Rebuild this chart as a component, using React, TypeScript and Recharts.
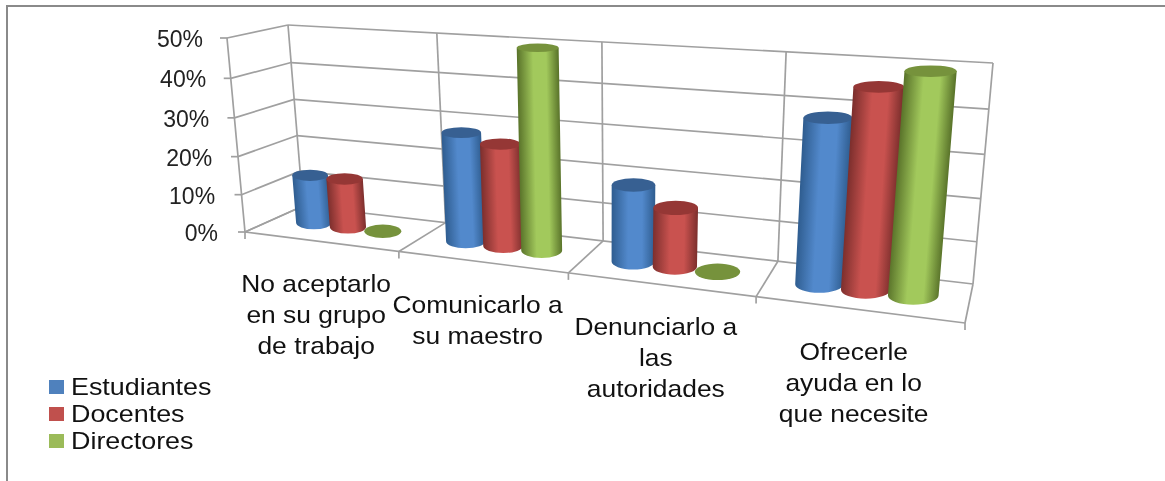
import { BarChart, Bar, XAxis, YAxis, Legend } from 'recharts'

const categories = [
  'No aceptarlo en su grupo de trabajo',
  'Comunicarlo a su maestro',
  'Denunciarlo a las autoridades',
  'Ofrecerle ayuda en lo que necesite',
]
const labelLines = [
  ['No aceptarlo', 'en su grupo', 'de trabajo'],
  ['Comunicarlo a', 'su maestro'],
  ['Denunciarlo a', 'las', 'autoridades'],
  ['Ofrecerle', 'ayuda en lo', 'que necesite'],
]
const estudiantes = [13, 28, 19, 38.5]
const docentes = [13, 26, 14.5, 46]
const directores = [0, 50, 0, 50]
const yTicks = [0, 10, 20, 30, 40, 50]

const data = categories.map((name, i) => ({
  name,
  Estudiantes: estudiantes[i],
  Docentes: docentes[i],
  Directores: directores[i],
}))

// plot rectangle that recharts works in, before the 3d projection
const WIDTH = 1165
const HEIGHT = 481
const PLOT_LEFT = 245
const PLOT_TOP = 38
const PLOT_W = 720
const PLOT_H = 194

type Pt = [number, number]

const homography = (p0: Pt, p1: Pt, p2: Pt, p3: Pt) => {
  const dx1 = p1[0] - p2[0]
  const dx2 = p3[0] - p2[0]
  const sx = p0[0] - p1[0] + p2[0] - p3[0]
  const dy1 = p1[1] - p2[1]
  const dy2 = p3[1] - p2[1]
  const sy = p0[1] - p1[1] + p2[1] - p3[1]
  const den = dx1 * dy2 - dx2 * dy1
  const g = (sx * dy2 - dx2 * sy) / den
  const h = (dx1 * sy - sx * dy1) / den
  const a = p1[0] - p0[0] + g * p1[0]
  const b = p3[0] - p0[0] + h * p3[0]
  const d = p1[1] - p0[1] + g * p1[1]
  const e = p3[1] - p0[1] + h * p3[1]
  return (u: number, v: number): Pt => {
    const q = g * u + h * v + 1
    return [(a * u + b * v + p0[0]) / q, (d * u + e * v + p0[1]) / q]
  }
}

// wall corners as they sit in the picture
const backWall = homography([303, 206], [973, 284], [993, 63], [288, 25])
const frontWall = homography([245, 232], [965, 323], [987, 88], [227, 38])

// u along the categories, v up the value axis, w from back (0) to front (1)
const project = (u: number, v: number, w: number): Pt => {
  const b = backWall(u, v)
  const f = frontWall(u, v)
  return [b[0] + (f[0] - b[0]) * w, b[1] + (f[1] - b[1]) * w]
}

const GRID = '#a0a0a0'

const Wire = ({ a, b }: { a: Pt; b: Pt }) => (
  <line x1={a[0]} y1={a[1]} x2={b[0]} y2={b[1]} stroke={GRID} strokeWidth={1.7} />
)

const WireFrame = () => {
  const levels = yTicks.map((t) => t / 50)
  const cuts = [0, 1, 2, 3, 4].map((i) => i / categories.length)
  return (
    <g>
      {levels.map((v) => (
        <g key={v}>
          <Wire a={project(0, v, 0)} b={project(1, v, 0)} />
          <Wire a={project(0, v, 1)} b={project(0, v, 0)} />
          <Wire a={[project(0, v, 1)[0] - 7, project(0, v, 1)[1]]} b={project(0, v, 1)} />
        </g>
      ))}
      <Wire a={project(0, 0, 1)} b={project(0, 1, 1)} />
      {cuts.map((u) => (
        <g key={u}>
          <Wire a={project(u, 0, 0)} b={project(u, 1, 0)} />
          <Wire a={project(u, 0, 1)} b={project(u, 0, 0)} />
          <Wire a={project(u, 0, 1)} b={[project(u, 0, 1)[0], project(u, 0, 1)[1] + 7]} />
        </g>
      ))}
      <Wire a={project(0, 0, 1)} b={project(1, 0, 1)} />
    </g>
  )
}

const tones: Record<string, { edge: string; mid: string; cap: string }> = {
  Estudiantes: { edge: '#2f5d90', mid: '#5289cc', cap: '#376092' },
  Docentes: { edge: '#7d2f2d', mid: '#c9524f', cap: '#953735' },
  Directores: { edge: '#5b752b', mid: '#a2c95c', cap: '#76923c' },
}

const BAR_DEPTH = 0.47
const BAR_RADIUS_DEPTH = 0.24
const BAR_FATTEN = 1.05

const Cylinder = (props: any) => {
  const { x, y, width, height, index, seriesKey } = props
  const tone = tones[seriesKey]
  const uMid = (x + width / 2 - PLOT_LEFT) / PLOT_W
  const uHalf = ((width / 2) * BAR_FATTEN) / PLOT_W
  const uL = uMid - uHalf
  const uR = uMid + uHalf
  const vTop = (PLOT_TOP + PLOT_H - y) / PLOT_H
  const vBottom = (PLOT_TOP + PLOT_H - y - height) / PLOT_H

  const ring = (v: number) => {
    // the bars flare less towards the top than the walls do
    const l = project(uL, v * 0.5, BAR_DEPTH)
    const r = project(uR, v * 0.5, BAR_DEPTH)
    const c = project(uMid, v, BAR_DEPTH)
    const near = project(uMid, v, BAR_DEPTH + BAR_RADIUS_DEPTH)
    const far = project(uMid, v, BAR_DEPTH - BAR_RADIUS_DEPTH)
    return { cx: c[0], cy: c[1], rx: (r[0] - l[0]) / 2, ry: Math.abs(near[1] - far[1]) / 2 }
  }
  const top = ring(vTop)
  const bottom = ring(vBottom)

  if (height < 0.5) {
    return <ellipse cx={bottom.cx} cy={bottom.cy} rx={bottom.rx} ry={bottom.ry} fill={tone.cap} />
  }

  const ax = top.cx - bottom.cx
  const ay = top.cy - bottom.cy
  const len = Math.hypot(ax, ay) || 1
  const nx = (-ay / len) * bottom.rx
  const ny = (ax / len) * bottom.rx
  const id = `cyl-${seriesKey}-${index}`
  const body = [
    `M${top.cx - top.rx},${top.cy}`,
    `L${bottom.cx - bottom.rx},${bottom.cy}`,
    `A${bottom.rx},${bottom.ry} 0 0 0 ${bottom.cx + bottom.rx},${bottom.cy}`,
    `L${top.cx + top.rx},${top.cy}`,
    'Z',
  ].join(' ')

  return (
    <g>
      <defs>
        <linearGradient
          id={id}
          gradientUnits="userSpaceOnUse"
          x1={bottom.cx + nx}
          y1={bottom.cy + ny}
          x2={bottom.cx - nx}
          y2={bottom.cy - ny}
        >
          <stop offset="0%" stopColor={tone.edge} />
          <stop offset="30%" stopColor={tone.mid} />
          <stop offset="62%" stopColor={tone.mid} />
          <stop offset="100%" stopColor={tone.edge} />
        </linearGradient>
      </defs>
      <path d={body} fill={`url(#${id})`} />
      <ellipse cx={top.cx} cy={top.cy} rx={top.rx} ry={top.ry} fill={tone.cap} />
    </g>
  )
}

const TEXT_FONT = '"Liberation Sans", Arial, sans-serif'

const ValueTick = ({ y, payload }: any) => {
  const v = (PLOT_TOP + PLOT_H - y) / PLOT_H
  const p = project(0, v, 1)
  return (
    <text x={p[0] - 24 - 3 * (1 - v)} y={p[1] + 9} textAnchor="end" fontFamily={TEXT_FONT} fontSize={23} fill="#222">
      {payload.value}%
    </text>
  )
}

const LABEL_DROP = 51
const LABEL_LEADING = 31

const CategoryTick = ({ x, index }: any) => {
  const p = project((x - PLOT_LEFT) / PLOT_W, 0, 1)
  return (
    <g>
      {labelLines[index].map((line, i) => (
        <text
          key={line}
          transform={`translate(${p[0] - 4},${p[1] + LABEL_DROP + i * LABEL_LEADING}) scale(1.1,1)`}
          textAnchor="middle"
          fontFamily={TEXT_FONT}
          fontSize={24}
          fill="#111"
        >
          {line}
        </text>
      ))}
    </g>
  )
}

const LegendBox = ({ payload }: any) => (
  <div style={{ fontFamily: TEXT_FONT, fontSize: 24, color: '#111' }}>
    {payload.map((item: any) => (
      <div key={item.value} style={{ display: 'flex', alignItems: 'center', height: 27 }}>
        <span style={{ width: 15, height: 14, background: item.color, marginRight: 7 }} />
        <span style={{ display: 'inline-block', transform: 'scaleX(1.12)', transformOrigin: 'left' }}>
          {item.value}
        </span>
      </div>
    ))}
  </div>
)

export default function App() {
  return (
    <div style={{ position: 'absolute', left: 0, top: 0, width: WIDTH, height: HEIGHT, overflow: 'hidden', filter: 'blur(0.4px)' }}>
      <div
        style={{
          position: 'absolute',
          left: 6,
          top: 5,
          right: -4,
          bottom: -4,
          borderTop: '2px solid #8a8a8a',
          borderLeft: '2px solid #8a8a8a',
        }}
      />
      <BarChart
        width={WIDTH}
        height={HEIGHT}
        data={data}
        barCategoryGap="15%"
        barGap={0}
        margin={{ left: PLOT_LEFT - 1, top: PLOT_TOP, right: WIDTH - PLOT_LEFT - PLOT_W, bottom: HEIGHT - PLOT_TOP - PLOT_H - 1 }}
      >
        <WireFrame />
        <XAxis dataKey="name" height={1} axisLine={false} tickLine={false} tick={<CategoryTick />} interval={0} />
        <YAxis width={1} domain={[0, 50]} ticks={yTicks} axisLine={false} tickLine={false} tick={<ValueTick />} />
        <Legend
          layout="vertical"
          align="center"
          verticalAlign="middle"
          itemSorter={null}
          content={<LegendBox />}
          wrapperStyle={{ left: 49, top: 373, width: 220 }}
        />
        <Bar dataKey="Estudiantes" fill="#4f81bd" isAnimationActive={false} shape={(p: any) => <Cylinder {...p} seriesKey="Estudiantes" />} />
        <Bar dataKey="Docentes" fill="#c0504d" isAnimationActive={false} shape={(p: any) => <Cylinder {...p} seriesKey="Docentes" />} />
        <Bar dataKey="Directores" fill="#9bbb59" isAnimationActive={false} shape={(p: any) => <Cylinder {...p} seriesKey="Directores" />} />
      </BarChart>
    </div>
  )
}
